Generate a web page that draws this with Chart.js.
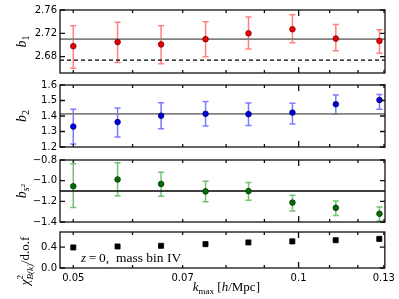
<!DOCTYPE html>
<html>
<head>
<meta charset="utf-8">
<script src="https://cdn.jsdelivr.net/npm/chart.js@4.4.1/dist/chart.umd.min.js"></script>
<style>
  html, body { margin: 0; padding: 0; background: #fff; }
  #wrap { position: relative; width: 399px; height: 299px; }
  #wrap canvas { position: absolute; left: 0; }
</style>
</head>
<body>
<div id="wrap">
  <canvas id="p1"></canvas>
  <canvas id="p2"></canvas>
  <canvas id="p3"></canvas>
  <canvas id="p4"></canvas>
</div>
<script>
// data
const kmax = [0.050, 0.0573, 0.0655, 0.0751, 0.0857, 0.0981, 0.1121, 0.1282];

const b1 = [2.698, 2.705, 2.701, 2.710, 2.720, 2.727, 2.711, 2.707];
const b1Lo = [2.660, 2.670, 2.668, 2.680, 2.693, 2.704, 2.690, 2.686];
const b1Hi = [2.733, 2.739, 2.733, 2.740, 2.748, 2.752, 2.735, 2.726];
const b1Ref = 2.710;
const b1Dashed = 2.674;

const b2 = [1.332, 1.361, 1.402, 1.414, 1.412, 1.422, 1.476, 1.503];
const b2Lo = [1.219, 1.264, 1.318, 1.336, 1.338, 1.349, 1.412, 1.443];
const b2Hi = [1.443, 1.452, 1.485, 1.494, 1.484, 1.482, 1.536, 1.538];
const b2Ref = 1.414;

const bs2 = [-1.054, -0.988, -1.032, -1.104, -1.101, -1.212, -1.263, -1.320];
const bs2Lo = [-1.260, -1.146, -1.152, -1.203, -1.190, -1.293, -1.337, -1.390];
const bs2Hi = [-0.836, -0.827, -0.919, -1.006, -1.018, -1.140, -1.197, -1.254];
const bs2Ref = -1.10;

const chi2 = [0.394, 0.413, 0.425, 0.457, 0.490, 0.510, 0.533, 0.558];

// axes
const xMin = 0.048, xMax = 0.1304;
const xTicks = [0.05, 0.06, 0.07, 0.08, 0.09, 0.1, 0.11, 0.12, 0.13];
const xTickLabels = ['0.05', '', '0.07', '', '', '0.1', '', '', '0.13'];
const b1Ticks = [2.68, 2.72, 2.76];
const b1TickLabels = ['2.68', '2.72', '2.76'];
const b2Ticks = [1.2, 1.3, 1.4, 1.5, 1.6];
const b2TickLabels = ['1.2', '1.3', '1.4', '1.5', '1.6'];
const bs2Ticks = [-1.4, -1.2, -1.0, -0.8];
const bs2TickLabels = ['\u22121.4', '\u22121.2', '\u22121.0', '\u22120.8'];
const chiTicks = [0.0, 0.2, 0.4, 0.6];
const chiTickLabels = ['0.0', '0.2', '0.4', '0.6'];

const tickFont = { family: 'DejaVu Sans', size: 10 };
const serif = 'Liberation Serif';

function fontOf(p) {
  return (p.italic ? 'italic ' : '') + p.size + 'px "' + serif + '"';
}

// draws a small math-like label made of parts (sub/superscripts via dy)
function drawMath(ctx, x, y, parts, rotate, align) {
  ctx.save();
  ctx.translate(x, y);
  if (rotate) ctx.rotate(-Math.PI / 2);
  ctx.fillStyle = '#000';
  ctx.textBaseline = 'alphabetic';
  ctx.textAlign = 'left';
  let total = 0, prevStart = 0, prevW = 0;
  parts.forEach(p => {
    ctx.font = fontOf(p);
    p.w = ctx.measureText(p.t).width;
    if (p.stack) {
      p.x = prevStart;
      total = prevStart + Math.max(prevW, p.w);
    } else {
      p.x = total;
      prevStart = total;
      prevW = p.w;
      total += p.w;
    }
  });
  const start = align === 'left' ? 0 : -total / 2;
  parts.forEach(p => {
    ctx.font = fontOf(p);
    ctx.fillText(p.t, start + p.x, p.dy || 0);
  });
  ctx.restore();
}

const panelDeco = {
  id: 'panelDeco',
  beforeDatasetsDraw(chart, args, opts) {
    const ctx = chart.ctx;
    const xs = chart.scales.x, ys = chart.scales.y;
    if (!opts.lo) return;
    ctx.save();
    ctx.strokeStyle = opts.barColor;
    ctx.lineWidth = 1.5;
    opts.lo.forEach((lo, i) => {
      const x = xs.getPixelForValue(kmax[i]);
      const y1 = ys.getPixelForValue(lo);
      const y2 = ys.getPixelForValue(opts.hi[i]);
      ctx.beginPath();
      ctx.moveTo(x, y1); ctx.lineTo(x, y2);
      ctx.moveTo(x - 3, y1); ctx.lineTo(x + 3, y1);
      ctx.moveTo(x - 3, y2); ctx.lineTo(x + 3, y2);
      ctx.stroke();
    });
    ctx.restore();
  },
  afterDraw(chart, args, opts) {
    const ctx = chart.ctx;
    const a = chart.chartArea;
    const xs = chart.scales.x, ys = chart.scales.y;
    ctx.save();
    ctx.strokeStyle = '#111';
    ctx.lineWidth = 1.3;
    ctx.beginPath();
    // inward ticks on all four sides
    ys.ticks.forEach(t => {
      const y = ys.getPixelForValue(t.value);
      ctx.moveTo(a.left, y); ctx.lineTo(a.left + 5, y);
      ctx.moveTo(a.right, y); ctx.lineTo(a.right - 5, y);
    });
    xTicks.forEach(v => {
      const x = xs.getPixelForValue(v);
      const len = v === 0.1 ? 6 : 3;
      ctx.moveTo(x, a.top); ctx.lineTo(x, a.top + len);
      ctx.moveTo(x, a.bottom); ctx.lineTo(x, a.bottom - len);
    });
    ctx.stroke();
    ctx.strokeRect(a.left, a.top, a.right - a.left, a.bottom - a.top);
    ctx.restore();
    if (opts.yTitle) drawMath(ctx, opts.yTitleX, (a.top + a.bottom) / 2 + (opts.yTitleShift || 0), opts.yTitle, true);
    if (opts.note) drawMath(ctx, a.left + 21, a.bottom - 6, opts.note, false, 'left');
    if (opts.xTitle) drawMath(ctx, (a.left + a.right) / 2 + 4, chart.height - 8, opts.xTitle, false);
  }
};

function makePanel(id, top, plotH, cfg) {
  const canvas = document.getElementById(id);
  const topPad = cfg.showX ? 22 : 7;
  const bottomPad = cfg.showX ? 31 : 7;
  canvas.width = 399;
  canvas.height = topPad + plotH + bottomPad;
  canvas.style.top = (top - topPad) + 'px';

  const datasets = [{
    data: cfg.values.map((v, i) => ({ x: kmax[i], y: v })),
    showLine: false,
    pointStyle: cfg.pointStyle || 'circle',
    pointRadius: cfg.pointRadius || 2.8,
    backgroundColor: cfg.pointColor,
    borderColor: cfg.edgeColor,
    borderWidth: 0.8
  }];
  cfg.refLines.forEach(r => {
    datasets.push({
      data: [{ x: xMin, y: r.y }, { x: xMax, y: r.y }],
      showLine: true,
      pointRadius: 0,
      borderColor: r.color,
      borderWidth: r.width,
      borderDash: r.dash || []
    });
  });

  return new Chart(canvas, {
    type: 'scatter',
    data: { datasets: datasets },
    options: {
      responsive: false,
      animation: false,
      devicePixelRatio: 1,
      layout: { padding: { top: topPad, bottom: cfg.showX ? 0 : 7, left: 0, right: 14 } },
      plugins: {
        legend: { display: false },
        tooltip: { enabled: false },
        panelDeco: {
          lo: cfg.lo, hi: cfg.hi, barColor: cfg.barColor,
          yTitle: cfg.yTitle, yTitleX: cfg.yTitleX, yTitleShift: cfg.yTitleShift,
          note: cfg.note, xTitle: cfg.xTitle
        }
      },
      scales: {
        x: {
          type: 'logarithmic',
          min: xMin, max: xMax,
          display: !!cfg.showX,
          afterBuildTicks: s => { s.ticks = xTicks.map(v => ({ value: v })); },
          afterFit: s => { if (cfg.showX) s.height = 31; },
          ticks: {
            autoSkip: false, maxRotation: 0, padding: 4,
            font: tickFont, color: '#000',
            callback: (v, i) => xTickLabels[i]
          },
          grid: { display: false, drawTicks: false },
          border: { display: false }
        },
        y: {
          min: cfg.yMin, max: cfg.yMax,
          afterBuildTicks: s => { s.ticks = cfg.yTicks.map(v => ({ value: v })); },
          afterFit: s => { s.width = 60; },
          ticks: {
            padding: 3, font: tickFont, color: '#000',
            callback: (v, i) => cfg.yTickLabels[i]
          },
          grid: { display: false, drawTicks: false },
          border: { display: false }
        }
      }
    },
    plugins: [panelDeco]
  });
}

makePanel('p1', 8, 67, {
  values: b1, lo: b1Lo, hi: b1Hi,
  pointColor: '#ee0000', edgeColor: '#7a0000', barColor: '#ff8080',
  yMin: 2.652, yMax: 2.76, yTicks: b1Ticks, yTickLabels: b1TickLabels,
  refLines: [
    { y: b1Ref, color: '#808080', width: 1.6 },
    { y: b1Dashed, color: '#000', width: 1.3, dash: [4, 3] }
  ],
  yTitleX: 26,
  yTitle: [{ t: 'b', size: 14, italic: true }, { t: '1', size: 10, dy: 3 }]
});

makePanel('p2', 83, 66, {
  values: b2, lo: b2Lo, hi: b2Hi,
  pointColor: '#0000dd', edgeColor: '#000070', barColor: '#7b7bff',
  yMin: 1.2, yMax: 1.6, yTicks: b2Ticks, yTickLabels: b2TickLabels,
  refLines: [{ y: b2Ref, color: '#808080', width: 1.6 }],
  yTitleX: 26,
  yTitle: [{ t: 'b', size: 14, italic: true }, { t: '2', size: 10, dy: 3 }]
});

makePanel('p3', 158, 66, {
  values: bs2, lo: bs2Lo, hi: bs2Hi,
  pointColor: '#007000', edgeColor: '#003000', barColor: '#72c272',
  yMin: -1.4, yMax: -0.8, yTicks: bs2Ticks, yTickLabels: bs2TickLabels,
  refLines: [{ y: bs2Ref, color: '#000', width: 1.3 }],
  yTitleX: 26,
  yTitle: [{ t: 'b', size: 14, italic: true }, { t: 's', size: 10, italic: true, dy: 3 }, { t: '2', size: 7, dy: -1 }]
});

makePanel('p4', 232, 36, {
  values: chi2,
  pointStyle: 'rect', pointRadius: 3.6,
  pointColor: '#000', edgeColor: '#000',
  yMin: 0, yMax: 0.69, yTicks: chiTicks, yTickLabels: chiTickLabels,
  refLines: [],
  showX: true,
  yTitleX: 29, yTitleShift: 11,
  yTitle: [
    { t: '\u03c7', size: 13, italic: true, dy: 0 },
    { t: '2', size: 9, dy: -6 },
    { t: 'B(k)', size: 9, italic: true, dy: 4, stack: true },
    { t: '/d.o.f', size: 13 }
  ],
  note: [
    { t: 'z', size: 13, italic: true },
    { t: '\u2009=\u20090,  mass bin IV', size: 13.5 }
  ],
  xTitle: [
    { t: 'k', size: 13, italic: true },
    { t: 'max', size: 9, dy: 3 },
    { t: ' [', size: 13 },
    { t: 'h', size: 13, italic: true },
    { t: '/Mpc]', size: 13 }
  ]
});
</script>
</body>
</html>
